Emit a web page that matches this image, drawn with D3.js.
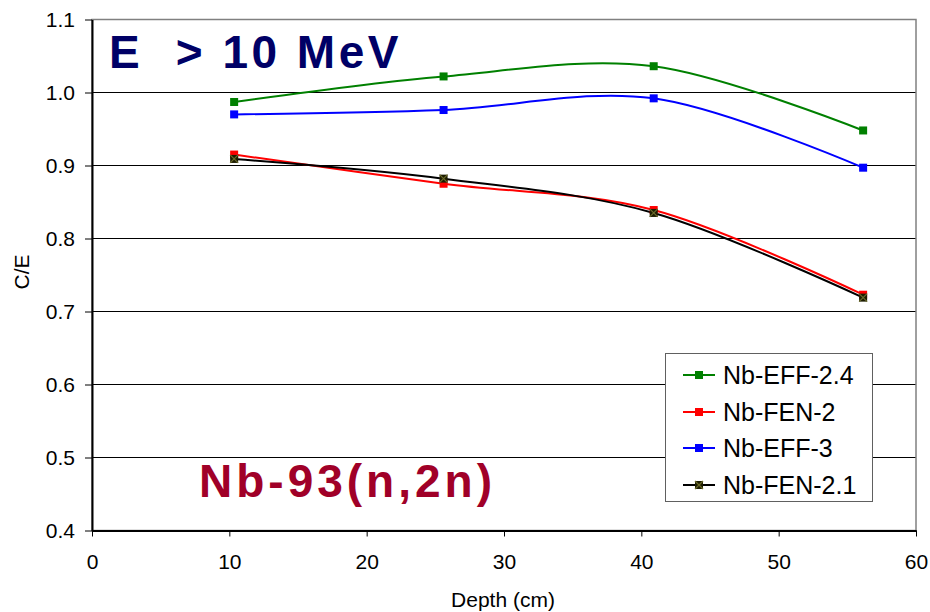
<!DOCTYPE html>
<html>
<head>
<meta charset="utf-8">
<script src="https://cdn.jsdelivr.net/npm/d3@7"></script>
<style>
  html, body { margin: 0; padding: 0; background: #fff; }
  svg { display: block; font-family: Arial, "Liberation Sans", sans-serif; }
</style>
</head>
<body>
<svg id="chart" width="930" height="612"></svg>
<script>
// Depth positions of the activation foils (cm)
const depths = [10.35, 25.6, 40.9, 56.15];

// C/E ratios for each nuclear data library
const effV24 = [0.987, 1.022, 1.036, 0.948];
const fenV2  = [0.915, 0.875, 0.839, 0.723];
const effV3  = [0.970, 0.976, 0.992, 0.897];
const fenV21 = [0.909, 0.882, 0.835, 0.719];

const seriesNames  = ["Nb-EFF-2.4", "Nb-FEN-2", "Nb-EFF-3", "Nb-FEN-2.1"];
const seriesColors = ["#008000", "#ff0000", "#0000ff", "#000000"];

const xTicks = [0, 10, 20, 30, 40, 50, 60];
const yTicks = [0.4, 0.5, 0.6, 0.7, 0.8, 0.9, 1.0, 1.1];

const series = [effV24, fenV2, effV3, fenV21].map((vals, i) => ({
  name: seriesNames[i],
  color: seriesColors[i],
  points: vals.map((v, j) => ({ x: depths[j], y: v }))
}));

const svg = d3.select("#chart");
const plotL = 92, plotR = 916, plotT = 19.5, plotB = 530.5;

const x = d3.scaleLinear().domain([0, 60]).range([plotL, plotR]);
const y = d3.scaleLinear().domain([0.4, 1.1]).range([plotB, plotT]);

// Horizontal gridlines
svg.append("g")
  .selectAll("line")
  .data(yTicks.filter(t => t > 0.4 && t < 1.1))
  .join("line")
  .attr("x1", plotL).attr("x2", plotR)
  .attr("y1", d => y(d)).attr("y2", d => y(d))
  .attr("stroke", "#000").attr("stroke-width", 1)
  .attr("shape-rendering", "crispEdges");

// Plot area frame
svg.append("rect")
  .attr("x", plotL).attr("y", plotT)
  .attr("width", plotR - plotL).attr("height", plotB - plotT)
  .attr("fill", "none").attr("stroke", "#808080").attr("stroke-width", 1.5);

// Axes
const xAxis = d3.axisBottom(x).tickValues(xTicks).tickSize(6).tickSizeOuter(0).tickPadding(18)
  .tickFormat(d3.format("d"));
const yAxis = d3.axisLeft(y).tickValues(yTicks).tickSize(7).tickSizeOuter(0).tickPadding(10)
  .tickFormat(d3.format(".1f"));

const gx = svg.append("g").attr("transform", `translate(0,${plotB})`).call(xAxis);
const gy = svg.append("g").attr("transform", `translate(${plotL},0)`).call(yAxis);
[gx, gy].forEach(g => {
  g.select(".domain").attr("stroke", "#000").attr("stroke-width", 2);
  g.selectAll(".tick line").attr("stroke", "#000").attr("stroke-width", 1);
  g.selectAll(".tick text").attr("fill", "#000")
    .style("font-family", "Arial, 'Liberation Sans', sans-serif").style("font-size", "21px");
});

// Axis titles
svg.append("text")
  .attr("x", 503).attr("y", 607)
  .attr("text-anchor", "middle")
  .style("font-size", "21px")
  .text("Depth (cm)");
svg.append("text")
  .attr("transform", "translate(29,272) rotate(-90)")
  .attr("text-anchor", "middle")
  .style("font-size", "21px")
  .text("C/E");

// Smoothed series lines
const line = d3.line()
  .x(d => x(d.x)).y(d => y(d.y))
  .curve(d3.curveCardinal.tension(0));

const gSeries = svg.append("g");
series.forEach(s => {
  gSeries.append("path")
    .attr("d", line(s.points))
    .attr("fill", "none")
    .attr("stroke", s.color)
    .attr("stroke-width", 2);
});

// Markers
function drawMarker(g, cx, cy, i, size) {
  const h = size / 2;
  if (i === 3) {
    g.append("rect").attr("x", cx - h).attr("y", cy - h)
      .attr("width", size).attr("height", size).attr("fill", "#1c1c00");
    g.append("path")
      .attr("d", `M${cx - h},${cy - h}L${cx + h},${cy + h}M${cx + h},${cy - h}L${cx - h},${cy + h}`)
      .attr("stroke", "#6b6b2a").attr("stroke-width", 1.2);
  } else {
    g.append("rect").attr("x", cx - h).attr("y", cy - h)
      .attr("width", size).attr("height", size).attr("fill", seriesColors[i]);
  }
}
series.forEach((s, i) => {
  const g = svg.append("g");
  s.points.forEach(p => drawMarker(g, x(p.x), y(p.y), i, 8));
});

// Legend
const lg = svg.append("g");
lg.append("rect")
  .attr("x", 665.5).attr("y", 353.5).attr("width", 207).attr("height", 148)
  .attr("fill", "#fff").attr("stroke", "#606060").attr("stroke-width", 1);
const legendY = [375, 412, 448, 485];
series.forEach((s, i) => {
  const ly = legendY[i];
  lg.append("line").attr("x1", 683).attr("x2", 715).attr("y1", ly).attr("y2", ly)
    .attr("stroke", s.color).attr("stroke-width", 2);
  drawMarker(lg, 699, ly, i, 8);
  lg.append("text").attr("x", 723).attr("y", ly + 9)
    .style("font-size", "25px").attr("fill", "#000").text(s.name);
});

// In-plot annotations
svg.append("text")
  .attr("x", 109).attr("y", 68)
  .style("font-size", "46px").style("font-weight", "bold")
  .style("letter-spacing", "3.5px")
  .attr("fill", "#000066")
  .attr("xml:space", "preserve")
  .text("E  > 10 MeV");
svg.append("text")
  .attr("x", 199).attr("y", 497)
  .style("font-size", "46px").style("font-weight", "bold")
  .style("letter-spacing", "4px")
  .attr("fill", "#a00028")
  .text("Nb-93(n,2n)");
</script>
</body>
</html>
